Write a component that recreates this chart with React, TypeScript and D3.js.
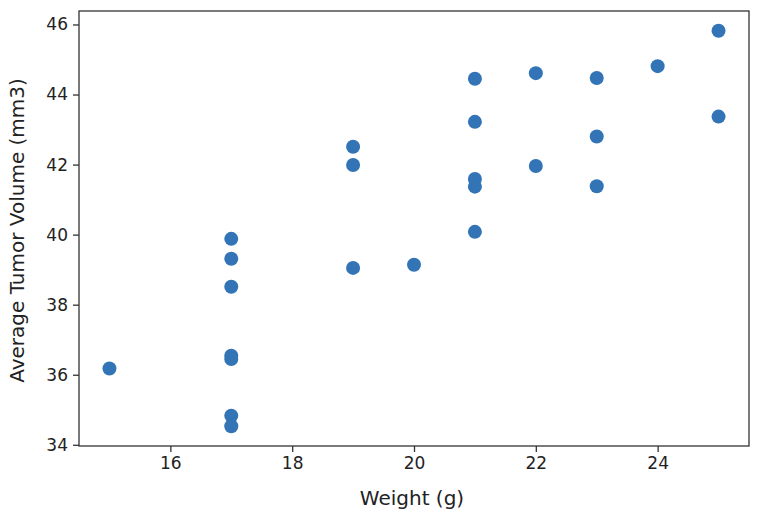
import React, { useEffect, useRef } from "react";
import * as d3 from "d3";

const weights = [22, 21, 17, 19, 22, 24, 20, 23, 21, 21, 19, 17, 19, 25, 17, 25, 17, 23, 17, 17, 21, 23, 21, 15, 17];
const tumorVolumes = [41.96, 40.08, 36.54, 41.99, 44.61, 44.81, 39.14, 44.47, 43.22, 44.45, 42.51, 34.83, 39.05, 45.82, 36.45, 43.37, 34.53, 42.80, 39.31, 39.88, 41.59, 41.38, 41.37, 36.18, 38.51];
const xTicks = [16, 18, 20, 22, 24];
const yTicks = [34, 36, 38, 40, 42, 44, 46];
const xLabel = "Weight (g)";
const yLabel = "Average Tumor Volume (mm3)";

const W = 766;
const H = 518;
const left = 79;
const right = 749;
const top = 11;
const bottom = 446;
const font = "'DejaVu Sans', sans-serif";

export default function App() {
  const ref = useRef<SVGSVGElement>(null);
  useEffect(() => {
    const svg = d3.select(ref.current);
    svg.selectAll("*").remove();
    const xMin = d3.min(weights)!, xMax = d3.max(weights)!;
    const yMin = d3.min(tumorVolumes)!, yMax = d3.max(tumorVolumes)!;
    const xPad = (xMax - xMin) * 0.05;
    const yPad = (yMax - yMin) * 0.05;
    const x = d3.scaleLinear().domain([xMin - xPad, xMax + xPad]).range([left, right]);
    const y = d3.scaleLinear().domain([yMin - yPad, yMax + yPad]).range([bottom, top]);

    svg.append("g")
      .selectAll("circle")
      .data(weights.map((w, i) => [w, tumorVolumes[i]]))
      .join("circle")
      .attr("cx", d => x(d[0]))
      .attr("cy", d => y(d[1]))
      .attr("r", 7)
      .attr("fill", "#3274b5");

    const xAxis = svg.append("g").attr("transform", `translate(0,${bottom})`)
      .call(d3.axisBottom(x).tickValues(xTicks).tickSize(6).tickPadding(5).tickFormat(d3.format("d")));
    const yAxis = svg.append("g").attr("transform", `translate(${left},0)`)
      .call(d3.axisLeft(y).tickValues(yTicks).tickSize(6).tickPadding(5).tickFormat(d3.format("d")));
    [xAxis, yAxis].forEach(a => {
      a.select(".domain").remove();
      a.selectAll("line").attr("stroke", "#333").attr("stroke-width", 1.3);
      a.selectAll("text").attr("font-family", font).attr("font-size", 17).attr("fill", "#222");
    });

    svg.append("rect")
      .attr("x", left).attr("y", top)
      .attr("width", right - left).attr("height", bottom - top)
      .attr("fill", "none").attr("stroke", "#333").attr("stroke-width", 1.3);

    svg.append("text")
      .attr("x", 412).attr("y", 505)
      .attr("text-anchor", "middle")
      .attr("font-family", font).attr("font-size", 20).attr("fill", "#222")
      .text(xLabel);

    svg.append("text")
      .attr("transform", `translate(24,230.5) rotate(-90)`)
      .attr("text-anchor", "middle")
      .attr("font-family", font).attr("font-size", 20).attr("fill", "#222")
      .text(yLabel);
  }, []);
  return (
    <svg ref={ref} width={W} height={H} style={{ position: "absolute", left: 0, top: 0, background: "#fff" }} />
  );
}
